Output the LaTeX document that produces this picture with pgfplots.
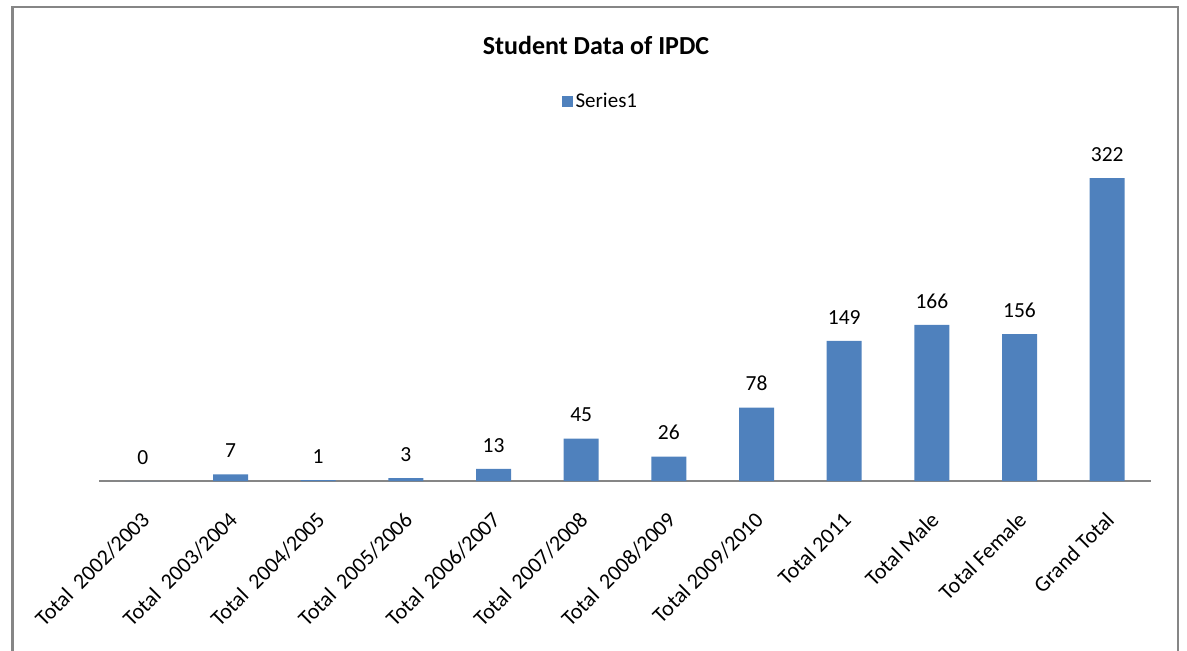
\documentclass[border=0pt]{standalone}
\usepackage{pgfplots}
\pgfplotsset{compat=1.18}
\usepackage{fontspec}
\setmainfont{Carlito}
\definecolor{barblue}{HTML}{4F81BD}
\definecolor{axgray}{HTML}{868686}
\begin{document}
\begin{tikzpicture}[x=1pt,y=1pt]
\useasboundingbox (0,0) rectangle (1187,-651);
\begin{scope}
\clip (0,0) rectangle (1187,-651);
\draw[axgray, line width=2.5pt] (12.5,-700) -- (12.5,-7.2) -- (1178,-7.2) -- (1178,-700);
\end{scope}
\node[font=\fontsize{26}{30}\selectfont\bfseries] at (596,-45) {Student Data of IPDC};
\begin{axis}[
  at={(99pt,-481pt)}, anchor=south west,
  x=87.67pt, y=0.941pt,
  xmin=-0.5, xmax=11.5, ymin=0, ymax=340,
  axis x line*=bottom, axis y line=none,
  x axis line style={axgray, line width=2pt},
  ybar, bar width=35pt,
  xtick={0,...,11}, major tick length=0pt,
  xticklabels={Total\hspace{0.45em}2002/2003, Total\hspace{0.45em}2003/2004, Total\hspace{0.45em}2004/2005, Total\hspace{0.45em}2005/2006, Total\hspace{0.45em}2006/2007, Total\hspace{0.45em}2007/2008, Total\hspace{0.45em}2008/2009, Total 2009/2010, Total 2011, Total Male, Total Female, Grand Total},
  xticklabel style={xshift=3pt, yshift=-35pt, rotate=45, anchor=east, font=\fontsize{22}{26}\selectfont, inner sep=0pt},
  nodes near coords,
  every node near coord/.append style={font=\fontsize{21.5}{25}\selectfont, yshift=13pt, black},
  /pgf/number format/assume math mode=true,
  legend style={at={(axis description cs:0.477,1.1875)}, anchor=center, draw=none, font=\fontsize{21}{25}\selectfont, inner sep=0pt, nodes={inner sep=2.5pt}},
  legend image code/.code={\fill[barblue] (0pt,-5.5pt) rectangle (11pt,5.5pt);},
]
\addplot[fill=barblue, draw=none] coordinates {(0,0) (1,7) (2,1) (3,3) (4,13) (5,45) (6,26) (7,78) (8,149) (9,166) (10,156) (11,322)};
\addlegendentry{Series1}
\end{axis}
\end{tikzpicture}
\end{document}
